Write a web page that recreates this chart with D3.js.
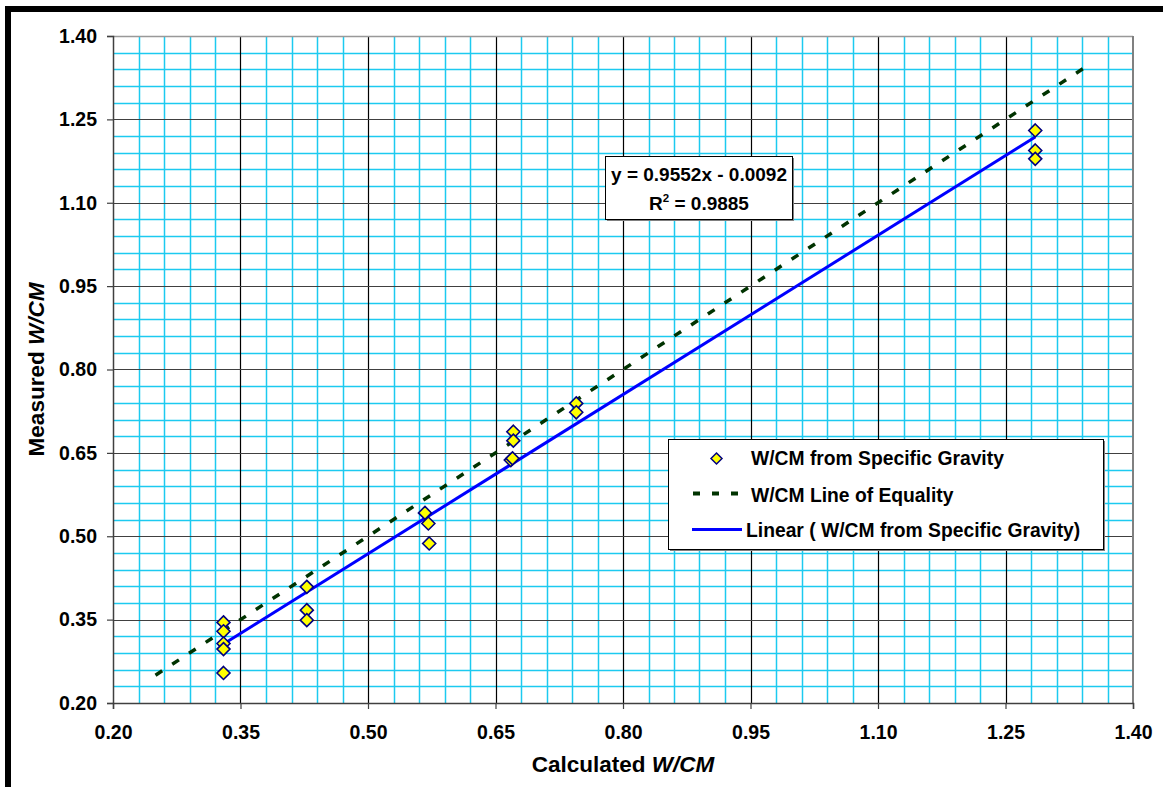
<!DOCTYPE html>
<html>
<head>
<meta charset="utf-8">
<script src="https://cdn.jsdelivr.net/npm/d3@7"></script>
<style>
  html, body { margin: 0; padding: 0; background: #fff; }
  svg { display: block; font-family: "Liberation Sans", Arial, Helvetica, sans-serif; }
  text { font-weight: bold; fill: #000; }
</style>
</head>
<body>
<svg id="chart" width="1163" height="787"></svg>
<script>
// Calculated vs measured W/CM
const calcWCM = [0.330, 0.330, 0.330, 0.330, 0.330,
                 0.428, 0.428, 0.428,
                 0.567, 0.571, 0.572,
                 0.671, 0.671, 0.668, 0.670,
                 0.745, 0.745,
                 1.285, 1.285, 1.285];
const measWCM = [0.345, 0.329, 0.307, 0.297, 0.254,
                 0.409, 0.367, 0.349,
                 0.542, 0.523, 0.487,
                 0.688, 0.672, 0.637, 0.640,
                 0.739, 0.723,
                 1.230, 1.194, 1.179];

// Fitted trend: y = 0.9552x - 0.0092, R² = 0.9885
const trendSlope = 0.9552;
const trendIntercept = -0.0092;
const trendR2 = 0.9885;
const trendRange = [0.330, 1.285];

// Line of equality y = x
const equalityRange = [0.25, 1.35];

const tickValues = [0.20, 0.35, 0.50, 0.65, 0.80, 0.95, 1.10, 1.25, 1.40];
const minorStep = 0.03;

const seriesNames = ["W/CM from Specific Gravity", "W/CM Line of Equality", "Linear ( W/CM from Specific Gravity)"];

const svg = d3.select("#chart");
const W = 1163, H = 787;
const plot = { left: 113, right: 1133, top: 36, bottom: 703 };

// outer frame (top and left black rules)
svg.append("rect").attr("x", 5).attr("y", 6).attr("width", W - 5).attr("height", 6).attr("fill", "#000");
svg.append("rect").attr("x", 5).attr("y", 6).attr("width", 6).attr("height", H - 6).attr("fill", "#000");

const x = d3.scaleLinear().domain([0.20, 1.40]).range([plot.left, plot.right]);
const y = d3.scaleLinear().domain([0.20, 1.40]).range([plot.bottom, plot.top]);

// minor grid
const minor = d3.range(0, 41).map(i => +(0.20 + i * minorStep).toFixed(3))
  .filter(v => !tickValues.some(t => Math.abs(t - v) < 1e-6));
const grid = svg.append("g");
grid.selectAll(".vmin").data(minor).join("line")
  .attr("x1", d => Math.round(x(d)) + 0.5).attr("x2", d => Math.round(x(d)) + 0.5)
  .attr("y1", plot.top).attr("y2", plot.bottom)
  .attr("stroke", "#1CCAF0").attr("stroke-width", 1.5);
grid.selectAll(".hmin").data(minor).join("line")
  .attr("y1", d => Math.round(y(d)) + 0.5).attr("y2", d => Math.round(y(d)) + 0.5)
  .attr("x1", plot.left).attr("x2", plot.right)
  .attr("stroke", "#1CCAF0").attr("stroke-width", 1.5);

// major grid
const majorInner = tickValues.slice(1, -1);
grid.selectAll(".vmaj").data(majorInner).join("line")
  .attr("x1", d => Math.round(x(d)) + 0.5).attr("x2", d => Math.round(x(d)) + 0.5)
  .attr("y1", plot.top).attr("y2", plot.bottom)
  .attr("stroke", "#000").attr("stroke-width", 1.2);
grid.selectAll(".hmaj").data(majorInner).join("line")
  .attr("y1", d => Math.round(y(d)) + 0.5).attr("y2", d => Math.round(y(d)) + 0.5)
  .attr("x1", plot.left).attr("x2", plot.right)
  .attr("stroke", "#404040").attr("stroke-width", 1.2);

// plot border
svg.append("line").attr("x1", plot.left).attr("x2", plot.right).attr("y1", plot.top + 0.5).attr("y2", plot.top + 0.5)
  .attr("stroke", "#999").attr("stroke-width", 1.5);
svg.append("line").attr("x1", plot.right).attr("x2", plot.right).attr("y1", plot.top).attr("y2", plot.bottom)
  .attr("stroke", "#808080").attr("stroke-width", 2);

// axes
const fmt = d3.format(".2f");
const xAxis = svg.append("g").attr("transform", `translate(0,${plot.bottom})`)
  .call(d3.axisBottom(x).tickValues(tickValues).tickFormat(fmt).tickSize(6).tickPadding(16));
const yAxis = svg.append("g").attr("transform", `translate(${plot.left},0)`)
  .call(d3.axisLeft(y).tickValues(tickValues).tickFormat(fmt).tickSize(6).tickPadding(10));
[xAxis, yAxis].forEach(a => {
  a.select(".domain").attr("stroke", "#404040").attr("stroke-width", 1.5);
  a.selectAll(".tick line").attr("stroke", "#404040").attr("stroke-width", 1.2);
  a.selectAll(".tick text").attr("font-size", 19.5).attr("font-weight", "bold")
    .attr("font-family", "'Liberation Sans', Arial, sans-serif").attr("fill", "#000");
});

// axis titles
const xt = svg.append("text").attr("x", (plot.left + plot.right) / 2).attr("y", 772)
  .attr("text-anchor", "middle").attr("font-size", 22.5);
xt.append("tspan").text("Calculated ");
xt.append("tspan").attr("font-style", "italic").text("W/CM");

const yt = svg.append("text")
  .attr("transform", `translate(43.5,${(plot.top + plot.bottom) / 2}) rotate(-90)`)
  .attr("text-anchor", "middle").attr("font-size", 22.5);
yt.append("tspan").text("Measured ");
yt.append("tspan").attr("font-style", "italic").text("W/CM");

// line of equality
const line = d3.line().x(d => x(d[0])).y(d => y(d[1]));
svg.append("path")
  .datum(equalityRange.map(v => [v, v]))
  .attr("d", line).attr("fill", "none")
  .attr("stroke", "#003300").attr("stroke-width", 3.5).attr("stroke-dasharray", "8,12");

// trend line
svg.append("path")
  .datum(trendRange.map(v => [v, trendSlope * v + trendIntercept]))
  .attr("d", line).attr("fill", "none")
  .attr("stroke", "#0000FF").attr("stroke-width", 3);

// markers
const diamond = s => `M0,${-s}L${s},0L0,${s}L${-s},0Z`;
svg.append("g").selectAll("path").data(calcWCM.map((v, i) => [v, measWCM[i]])).join("path")
  .attr("transform", d => `translate(${x(d[0])},${y(d[1])})`)
  .attr("d", diamond(6.5))
  .attr("fill", "#FFFF00").attr("stroke", "#000080").attr("stroke-width", 1.6);

// equation box
const eq = svg.append("g");
eq.append("rect").attr("x", 607).attr("y", 158).attr("width", 187).attr("height", 63).attr("fill", "#808080");
eq.append("rect").attr("x", 605.5).attr("y", 156.5).attr("width", 187).attr("height", 63)
  .attr("fill", "#fff").attr("stroke", "#000").attr("stroke-width", 1);
eq.append("text").attr("x", 699).attr("y", 181).attr("text-anchor", "middle").attr("font-size", 19)
  .text(`y = ${trendSlope}x - ${d3.format(".4f")(-trendIntercept)}`);
const r2 = eq.append("text").attr("x", 699).attr("y", 209.5).attr("text-anchor", "middle").attr("font-size", 19);
r2.append("tspan").text("R");
r2.append("tspan").attr("font-size", 11.5).attr("dy", -8).text("2");
r2.append("tspan").attr("dy", 8).text(` = ${trendR2}`);

// legend
const lg = svg.append("g");
lg.append("rect").attr("x", 670).attr("y", 441).attr("width", 435).attr("height", 110).attr("fill", "#808080");
lg.append("rect").attr("x", 668.5).attr("y", 439.5).attr("width", 435).attr("height", 110)
  .attr("fill", "#fff").attr("stroke", "#000").attr("stroke-width", 1);
lg.append("path").attr("transform", "translate(716.5,458.5)").attr("d", diamond(5.5))
  .attr("fill", "#FFFF00").attr("stroke", "#000080").attr("stroke-width", 1.5);
lg.append("line").attr("x1", 693).attr("x2", 740).attr("y1", 493.5).attr("y2", 493.5)
  .attr("stroke", "#003300").attr("stroke-width", 4).attr("stroke-dasharray", "7,12");
lg.append("line").attr("x1", 692).attr("x2", 742).attr("y1", 529.5).attr("y2", 529.5)
  .attr("stroke", "#0000FF").attr("stroke-width", 3);
const lgText = [[751, 465], [751, 501.5], [746, 536.5]];
lg.selectAll("text.lg").data(seriesNames).join("text")
  .attr("x", (d, i) => lgText[i][0]).attr("y", (d, i) => lgText[i][1])
  .attr("font-size", 19.3).text(d => d);
</script>
</body>
</html>
